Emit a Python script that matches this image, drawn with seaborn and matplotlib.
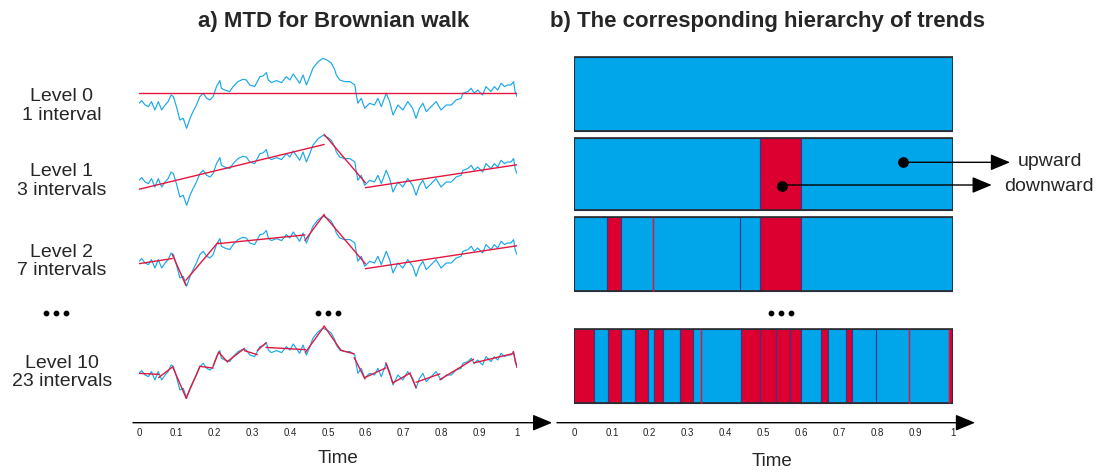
import numpy as np
import pandas as pd
import seaborn as sns
import matplotlib.pyplot as plt

# Brownian walk: time and height above the level 0 trend line
walk_t = [0.000, 0.007, 0.016, 0.025, 0.033, 0.042, 0.051, 0.060, 0.069, 0.077,
          0.085, 0.091, 0.099, 0.108, 0.117, 0.126, 0.135, 0.143, 0.152, 0.161,
          0.170, 0.179, 0.188, 0.196, 0.205, 0.214, 0.218, 0.227, 0.240, 0.249,
          0.262, 0.275, 0.284, 0.293, 0.306, 0.320, 0.328, 0.337, 0.342, 0.350,
          0.364, 0.377, 0.390, 0.399, 0.408, 0.416, 0.425, 0.434, 0.443, 0.452,
          0.460, 0.474, 0.487, 0.500, 0.509, 0.518, 0.522, 0.531, 0.544, 0.558,
          0.571, 0.575, 0.579, 0.588, 0.597, 0.610, 0.623, 0.632, 0.641, 0.654,
          0.663, 0.672, 0.685, 0.698, 0.711, 0.724, 0.733, 0.742, 0.751, 0.760,
          0.773, 0.786, 0.799, 0.813, 0.826, 0.839, 0.852, 0.857, 0.870, 0.879,
          0.887, 0.896, 0.909, 0.918, 0.931, 0.940, 0.949, 0.958, 0.967, 0.975,
          0.984, 0.991, 0.995, 1.000]
walk_v = [-10.0, -7.3, -11.7, -13.3, -8.3, -16.7, -8.3, -16.7, -11.7, -8.3,
          -1.7, -3.3, -13.3, -26.7, -25.0, -35.0, -25.0, -18.3, -11.7, -3.3,
          0.0, -5.0, -6.7, -3.3, 6.7, 12.7, 5.0, 3.3, 1.7, 6.7,
          11.7, 14.0, 13.3, 8.3, 6.7, 16.7, 17.3, 20.7, 13.3, 10.7,
          12.7, 10.7, 16.7, 13.3, 19.3, 15.0, 10.0, 18.3, 8.3, 16.7,
          25.0, 31.7, 35.0, 32.7, 30.0, 23.3, 18.3, 13.3, 11.7, 11.7,
          8.3, -1.7, -10.0, -5.0, -15.0, -10.0, -11.7, -5.0, -13.3, 0.0,
          -8.3, -21.7, -11.7, -16.7, -8.3, -15.0, -25.0, -15.0, -10.0, -18.3,
          -13.3, -8.3, -16.7, -11.7, -11.7, -6.7, -5.0, 0.0, 1.7, 5.0,
          0.0, 3.3, -1.7, 6.7, 1.7, 6.7, 3.3, 10.0, 6.7, 8.3,
          8.3, 11.7, 1.7, -3.3]

level_names = ["Level 0\n1 interval", "Level 1\n3 intervals",
               "Level 2\n7 intervals", "Level 10\n23 intervals"]
level_breaks = [
    [],
    [0.490, 0.599],
    [0.088, 0.124, 0.209, 0.439, 0.490, 0.599],
    [0.052, 0.090, 0.125, 0.160, 0.196, 0.211, 0.234, 0.279, 0.313, 0.336, 0.440,
     0.490, 0.534, 0.569, 0.598, 0.653, 0.671, 0.718, 0.733, 0.796, 0.885, 0.990],
]
# 1 = upward trend (blue), 0 = downward trend (red)
level_up = [
    [1],
    [1, 0, 1],
    [1, 0, 1, 1, 1, 0, 1],
    [0, 1, 0, 1, 0, 1, 0, 1, 0, 1, 1, 0, 0, 0, 0, 1, 0, 1, 0, 1, 1, 1, 0],
]
level_red_edges = [[], [], [0.209], [0.336, 0.885, 0.990]]

tick_vals = [0, 0.1, 0.2, 0.3, 0.4, 0.5, 0.6, 0.7, 0.8, 0.9, 1]
tick_labels = ["0", "0.1", "0.2", "0.3", "0.4", "0.5", "0.6", "0.7", "0.8", "0.9", "1"]

sns.set_theme(style="white")
plt.rcParams["font.family"] = ["Liberation Sans", "DejaVu Sans"]

W, H = 1104, 473
blue = "#00a6e9"
red = "#dc0030"
walk_col = "#1aa8ea"
trend_col = "#e3173e"
navy = "#33388a"

base_y = 422.7   # pixel row of the time arrows
top_y = 40.0
offsets = [0, 77, 158, 270]             # vertical shift of each walk (pixels)
rows = [(57, 131), (138, 210), (217, 291), (329, 403)]   # bar rows (pixels)

fig = plt.figure(figsize=(W / 100, H / 100), dpi=100)


def frac_box(x0, x1):
    return [x0 / W, (H - base_y) / H, (x1 - x0) / W, (base_y - top_y) / H]


t = np.array(walk_t)
v = np.array(walk_v)

# walks
walk_df = pd.concat([pd.DataFrame({"t": t, "y": v - off, "level": i})
                     for i, off in enumerate(offsets)])


def trend_segments(breaks, off, lev):
    edges = [0.0] + breaks + [1.0]
    # the root level is drawn as a flat mean line
    deg = 0 if not breaks else 1
    out = []
    for i in range(len(edges) - 1):
        a, b = edges[i], edges[i + 1]
        m = (t > a) & (t < b)
        ts = np.concatenate([[a], t[m], [b]])
        vs = np.concatenate([[np.interp(a, t, v)], v[m], [np.interp(b, t, v)]])
        p = np.polyfit(ts, vs, deg)
        seg = f"{lev}-{i}"
        out.append((seg, a, np.polyval(p, a) - off))
        out.append((seg, b, np.polyval(p, b) - off))
    return out


seg_rows = []
for lev, (br, off) in enumerate(zip(level_breaks, offsets)):
    seg_rows += trend_segments(br, off, lev)
trend_df = pd.DataFrame(seg_rows, columns=["seg", "t", "y"])

axL = fig.add_axes(frac_box(139, 517))
sns.lineplot(data=walk_df, x="t", y="y", units="level", estimator=None,
             color=walk_col, linewidth=0.85, ax=axL)
sns.lineplot(data=trend_df, x="t", y="y", units="seg", estimator=None,
             color=trend_col, linewidth=1.0, ax=axL)
axL.set_xlim(0, 1)
axL.set_ylim(93.3 - base_y, 93.3 - top_y)

# trend bars
axR = fig.add_axes(frac_box(574, 953))
for br, up, reds, (r0, r1) in zip(level_breaks, level_up, level_red_edges, rows):
    edges = [0.0] + br + [1.0]
    lefts = edges[:-1]
    widths = np.diff(edges)
    cols = [blue if u else red for u in up]
    axR.barh(y=(r0 + r1) / 2, width=widths, left=lefts, height=r1 - r0,
             color=cols, edgecolor=navy, linewidth=0.8)
    if reds:
        axR.vlines(reds, r0, r1, color=trend_col, linewidth=1.0)
    axR.add_patch(plt.Rectangle((0, r0), 1, r1 - r0, fill=False,
                                edgecolor="#2a2a2a", linewidth=1.2))
axR.set_xlim(0, 1)
axR.set_ylim(base_y, top_y)

arrow = dict(arrowstyle="-|>,head_length=0.6,head_width=0.25", color="black",
             lw=1.0, mutation_scale=20, shrinkA=0, shrinkB=0)
for ax, x0, x1 in [(axL, -0.016, 1.093), (axR, -0.045, 1.058)]:
    for s in ax.spines.values():
        s.set_visible(False)
    ax.set_xlabel("")
    ax.set_ylabel("")
    ax.set_yticks([])
    ax.set_xticks(tick_vals, tick_labels)
    ax.tick_params(axis="x", length=0, pad=4, labelsize=7, colors="#222222")
    ax.patch.set_alpha(0)
    ax.annotate("", xy=(x1, 0), xytext=(x0, 0), xycoords="axes fraction",
                arrowprops=arrow, annotation_clip=False)

# overlay for texts and marks in pixel units
ov = fig.add_axes([0, 0, 1, 1])
ov.set_xlim(0, W)
ov.set_ylim(H, 0)
ov.axis("off")
ov.set_zorder(10)

ov.text(334, 21, "a) MTD for Brownian walk", ha="center", va="center",
        fontsize=16, fontweight="bold")
ov.text(767, 21, "b) The corresponding hierarchy of trends", ha="center",
        va="center", fontsize=16, fontweight="bold")
ov.text(338, 458, "Time", ha="center", va="center", fontsize=13.5)
ov.text(772, 461, "Time", ha="center", va="center", fontsize=13.5)

for name, yc in zip(level_names, [106, 181, 261.5, 372.5]):
    ov.text(62, yc, name, ha="center", va="center", fontsize=14, linespacing=1.15)

for xs in ([46, 56, 66], [318, 328, 338], [771, 781, 791]):
    ov.scatter(xs, [313] * 3, s=10, color="black")

ov.scatter([902.7, 782.3], [162.3, 186], s=45, color="black", zorder=11)
ov.annotate("", xy=(1010, 162.3), xytext=(902.7, 162.3), arrowprops=arrow)
ov.annotate("", xy=(991.7, 185), xytext=(782.3, 185), arrowprops=arrow)
ov.text(1018, 161, "upward", ha="left", va="center", fontsize=14)
ov.text(1004, 186, "downward", ha="left", va="center", fontsize=14)

fig.savefig("out.png", dpi=100)
